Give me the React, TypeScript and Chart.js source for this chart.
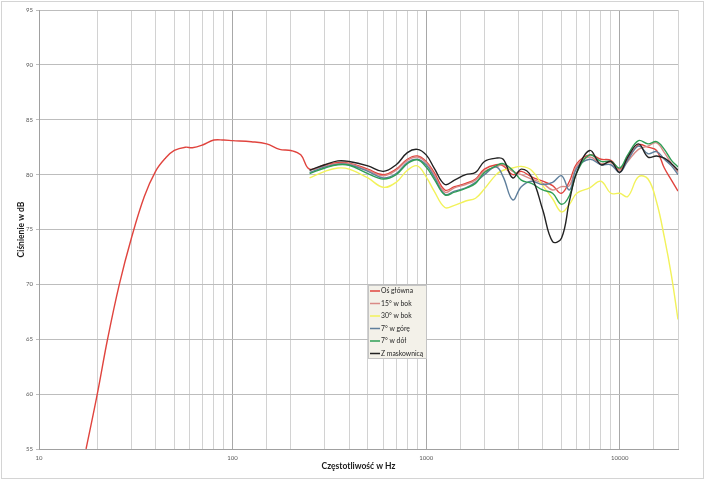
import React, { useEffect, useRef } from "react";
import { Chart, registerables } from "chart.js";

Chart.register(...registerables);

// Bass portion of the main-axis curve (Hz / dB)
const bassFreqs = [17.5, 20, 22.6, 26, 30, 35, 40, 45, 50, 57, 62, 70, 80, 90, 100, 125, 150, 175, 200, 225];
const bassMain = [55, 60, 65, 70, 74.2, 78, 80.3, 81.5, 82.2, 82.5, 82.45, 82.7, 83.15, 83.15, 83.1, 83.0, 82.8, 82.3, 82.2, 81.8];

// Shared frequency grid for all measurements (Hz)
const freqs = [250, 300, 350, 400, 500, 600, 700, 800, 900, 1000, 1100, 1250, 1400, 1600, 1800, 2000, 2300, 2500, 2800, 3100, 3500, 4000, 4500, 5000, 5500, 6000, 7000, 8000, 9000, 10000, 11000, 12500, 14000, 15500, 17000, 18500, 20000];

const osGlowna = [80.5, 80.9, 81.1, 81.05, 80.5, 80.0, 80.5, 81.4, 81.7, 81.2, 80.2, 78.6, 78.9, 79.2, 79.6, 80.5, 80.9, 80.8, 80.0, 80.3, 79.8, 79.4, 79.0, 78.3, 79.4, 81.0, 81.8, 81.4, 81.3, 80.5, 81.4, 82.7, 82.5, 82.2, 80.6, 79.5, 78.5];
const bok15 = [80.4, 80.8, 81.0, 81.0, 80.4, 79.9, 80.4, 81.3, 81.6, 81.1, 80.0, 78.4, 78.8, 79.1, 79.5, 80.3, 80.7, 80.9, 80.3, 80.0, 79.6, 79.2, 78.6, 78.9, 79.0, 80.8, 81.6, 81.0, 81.1, 80.4, 81.2, 82.3, 82.6, 82.9, 82.0, 81.0, 80.2];
const bok30 = [79.7, 80.3, 80.6, 80.5, 79.7, 78.85, 79.3, 80.4, 80.8, 79.8, 78.5, 77.0, 77.2, 77.6, 77.85, 78.7, 80.0, 80.4, 80.6, 80.75, 80.4, 79.0, 77.8, 76.6, 77.3, 78.3, 78.8, 79.4, 78.3, 78.3, 78.0, 79.8, 79.6, 77.5, 74.3, 70.8, 66.8];
const gora7 = [80.2, 80.7, 80.95, 80.9, 80.3, 79.7, 80.1, 81.1, 81.4, 80.9, 79.8, 78.2, 78.5, 78.8, 79.3, 80.0, 80.7, 79.8, 77.7, 78.9, 79.4, 79.1, 79.3, 79.9, 78.6, 80.6, 81.4, 80.9, 80.9, 80.2, 81.3, 82.6, 81.9, 82.1, 81.4, 80.8, 80.0];
const dol7 = [80.1, 80.6, 80.9, 80.85, 80.1, 79.6, 80.0, 81.0, 81.35, 80.7, 79.6, 78.15, 78.4, 78.75, 79.2, 80.2, 80.8, 81.0, 80.4, 79.5, 79.2, 78.6, 78.3, 77.3, 78.1, 80.2, 81.8, 81.2, 81.2, 80.6, 81.8, 83.1, 82.8, 83.0, 82.3, 81.3, 80.7];
const maskownica = [80.4, 80.9, 81.25, 81.2, 80.8, 80.3, 80.9, 82.0, 82.3, 81.8, 80.6, 79.1, 79.5, 80.0, 80.2, 81.2, 81.5, 81.4, 79.7, 80.5, 79.8, 76.8, 73.9, 74.2, 77.6, 80.2, 82.2, 80.9, 81.2, 80.2, 81.6, 82.8, 81.6, 81.7, 81.5, 81.0, 80.4];

const seriesLabels = ["Oś główna", "15° w bok", "30° w bok", "7° w górę", "7° w dół", "Z maskownicą"];
const seriesColors = ["#e0443e", "#d98a86", "#f2f25a", "#5f7f9c", "#2e9e55", "#222222"];

const majorTicks = [10, 100, 1000, 10000];
const yTitle = "Ciśnienie w dB";
const xTitle = "Częstotliwość w Hz";

const FONT = "Lato, 'Open Sans', sans-serif";

export default function App() {
  const ref = useRef<HTMLCanvasElement | null>(null);

  useEffect(() => {
    if (!ref.current) return;
    const pts = (fs: number[], vs: number[]) => fs.map((f, i) => ({ x: f, y: vs[i] }));
    const seriesValues = [osGlowna, bok15, bok30, gora7, dol7, maskownica];
    const datasets = seriesValues.map((vals, i) => ({
      label: seriesLabels[i],
      data: i === 0 ? [...pts(bassFreqs, bassMain), ...pts(freqs, vals)] : pts(freqs, vals),
      borderColor: seriesColors[i],
      backgroundColor: seriesColors[i],
      borderWidth: 1.4,
      pointRadius: 0,
      tension: 0.4,
      fill: false,
      order: seriesValues.length - i,
    }));

    const frame = {
      id: "frame",
      beforeDraw(chart: any) {
        const c = chart.ctx;
        c.save();
        c.fillStyle = "#ffffff";
        c.fillRect(0, 0, chart.width, chart.height);
        c.strokeStyle = "#d4d4d4";
        c.lineWidth = 1;
        c.strokeRect(1.5, 1.5, chart.width - 3, chart.height - 3);
        c.restore();
      },
      afterDraw(chart: any) {
        const c = chart.ctx;
        const bx = 368.5, by = 285.5, bw = 58, bh = 73;
        c.save();
        c.fillStyle = "#f3f1e9";
        c.fillRect(bx, by, bw, bh);
        c.strokeStyle = "#c4c4c4";
        c.lineWidth = 1;
        c.strokeRect(bx, by, bw, bh);
        c.font = `6.8px ${FONT}`;
        c.textBaseline = "middle";
        c.textAlign = "left";
        chart.data.datasets.forEach((ds: any, i: number) => {
          const y = by + 5.5 + i * 12.5;
          c.strokeStyle = ds.borderColor;
          c.lineWidth = 1.5;
          c.beginPath();
          c.moveTo(370, y);
          c.lineTo(380, y);
          c.stroke();
          c.fillStyle = "#262626";
          c.fillText(ds.label, 381, y);
        });
        c.restore();
      },
    };

    const chart = new Chart(ref.current, {
      type: "line",
      data: { datasets: datasets as any },
      plugins: [frame],
      options: {
        animation: false,
        responsive: false,
        devicePixelRatio: 1,
        layout: { padding: { left: 0, right: 27, top: 10, bottom: 0 } },
        plugins: { legend: { display: false }, tooltip: { enabled: false }, title: { display: false } },
        scales: {
          x: {
            type: "logarithmic",
            min: 10,
            max: 20000,
            afterFit: (s: any) => { s.height = 31; },
            border: { color: "#a0a0a0" },
            grid: {
              drawTicks: false,
              color: (ctx: any) => (ctx.tick && majorTicks.includes(ctx.tick.value) ? "#a8a8a8" : "#d2d2d2"),
            },
            ticks: {
              autoSkip: false,
              maxRotation: 0,
              padding: 5,
              color: "#595959",
              font: { size: 6, family: FONT },
              callback: (v: any) => (majorTicks.includes(Number(v)) ? String(v) : ""),
            },
            title: {
              display: true,
              text: xTitle,
              color: "#1a1a1a",
              font: { size: 8.5, weight: "bold", family: FONT },
              padding: { top: 0, bottom: 9 },
            },
          },
          y: {
            type: "linear",
            min: 55,
            max: 95,
            afterFit: (s: any) => { s.width = 39; },
            border: { color: "#a0a0a0" },
            grid: { color: "#bdbdbd", tickLength: 3 },
            ticks: {
              stepSize: 5,
              padding: 3,
              color: "#595959",
              font: { size: 6, family: FONT },
            },
            title: {
              display: true,
              text: yTitle,
              color: "#1a1a1a",
              font: { size: 8.5, weight: "bold", family: FONT },
              padding: { top: 16, bottom: 0 },
            },
          },
        },
      } as any,
    });
    return () => chart.destroy();
  }, []);

  return (
    <div style={{ position: "absolute", left: 0, top: 0, width: 705, height: 480 }}>
      <canvas ref={ref} width={705} height={480} />
    </div>
  );
}
